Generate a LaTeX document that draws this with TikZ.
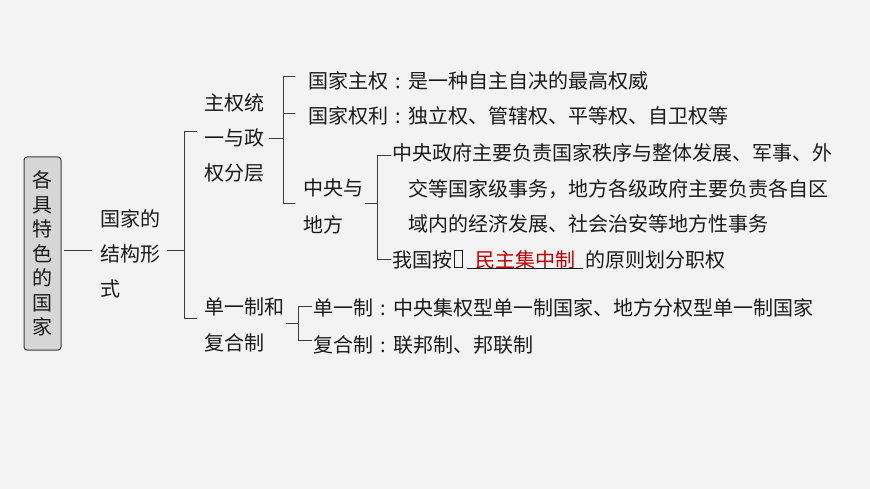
\documentclass[tikz,border=0pt]{standalone}
\usepackage{fontspec}
\setmainfont{Noto Sans CJK SC}
\definecolor{bg}{RGB}{243,243,243}
\definecolor{boxfill}{RGB}{214,214,214}
\definecolor{ink}{RGB}{26,26,26}
\definecolor{lncol}{RGB}{60,60,60}
\definecolor{keyred}{RGB}{192,0,0}
\newcommand{\cc}{\makebox[20pt][c]{:}}
\begin{document}
\begin{tikzpicture}[x=1pt,y=-1pt,
  t/.style={inner sep=0pt, anchor=base west, text=ink, font=\fontsize{20}{24}\selectfont},
  ln/.style={draw=lncol, line width=1pt},
  rootbox/.style={draw=lncol, line width=1pt, fill=boxfill, rounded corners=3pt,
    minimum width=37pt, minimum height=193pt, inner sep=0pt}]
\fill[bg] (0,0) rectangle (870,489);
\useasboundingbox (0,0) rectangle (870,489);

% root
\node[rootbox] (root) at (42.5,253.5) {};
\foreach \c [count=\i from 0] in {各,具,特,色,的,国,家}
  \node[inner sep=0pt, anchor=base, text=ink, font=\fontsize{20}{24}\selectfont]
    (rc\i) at (42.5,{180+\i*24.5+7.6}) {\c};

% level 1
\node[t] (f1) at (100,{219+7.6}) {国家的};
\node[t] (f2) at (100,{254+7.6}) {结构形};
\node[t] (f3) at (100,{289+7.6}) {式};

% level 2
\node[t] (s1) at (204,{103+7.6}) {主权统};
\node[t] (s2) at (204,{138+7.6}) {一与政};
\node[t] (s3) at (204,{173+7.6}) {权分层};
\node[t] (u1) at (204,{307+7.6}) {单一制和};
\node[t] (u2) at (204,{343+7.6}) {复合制};

% level 3
\node[t] (a1) at (308,{81+7.6}) {国家主权\cc 是一种自主自决的最高权威};
\node[t] (a2) at (308,{116+7.6}) {国家权利\cc 独立权、管辖权、平等权、自卫权等};
\node[t] (c1) at (303,{188+7.6}) {中央与};
\node[t] (c2) at (303,{225+7.6}) {地方};
\node[t] (d1) at (313,{308+7.6}) {单一制\cc 中央集权型单一制国家、地方分权型单一制国家};
\node[t] (d2) at (313,{345+7.6}) {复合制\cc 联邦制、邦联制};

% level 4
\node[t] (e1) at (392,{153+7.6}) {中央政府主要负责国家秩序与整体发展、军事、外};
\node[t] (e2) at (408,{189+7.6}) {交等国家级事务，地方各级政府主要负责各自区};
\node[t] (e3) at (408,{224+7.6}) {域内的经济发展、社会治安等地方性事务};
\node[t] (g1) at (392,{260+7.6}) {我国按};
\node[draw=ink, line width=0.8pt, inner sep=0pt, minimum width=8pt, minimum height=17pt,
  anchor=west] (tofu) at (454,259) {};
\node[t, text=keyred] (g2) at (475,{260+7.6}) {民主集中制};
\node[t] (g3) at (585,{260+7.6}) {的原则划分职权};
\draw[ln, draw=ink] (467,268.5) -- (583,268.5);

% connectors
\draw[ln] (64,250) -- (92,250);
\draw[ln] (167,250) -- (184,250);
\draw[ln] (197,132) -- (184,132) -- (184,318) -- (197,318);

\draw[ln] (269,139) -- (283,139);
\draw[ln] (295,77) -- (283,77) -- (283,204) -- (295,204);
\draw[ln] (283,114) -- (295,114);

\draw[ln] (365,204) -- (377,204);
\draw[ln] (391,156) -- (377,156) -- (377,259) -- (391,259);

\draw[ln] (286,323) -- (298,323);
\draw[ln] (312,306) -- (298,306) -- (298,340) -- (312,340);
\end{tikzpicture}
\end{document}
